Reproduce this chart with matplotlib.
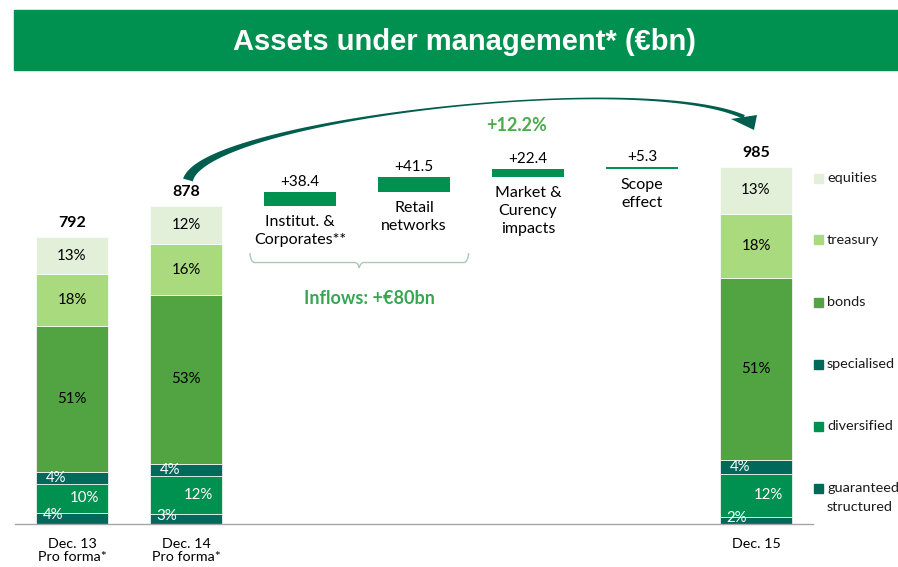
import numpy as np
import matplotlib
matplotlib.use('Agg')
import matplotlib.pyplot as plt
from matplotlib.patches import Rectangle, Polygon, PathPatch
from matplotlib.path import Path

plt.rcParams['font.family'] = ['Lato', 'DejaVu Sans']

# --- data ---
columns = ['Dec. 13\nPro forma*', 'Dec. 14\nPro forma*', 'Dec. 15']
totals = [792, 878, 985]
segments = ['guaranteed\nstructured', 'diversified', 'specialised', 'bonds', 'treasury', 'equities']
share_dec13 = [4, 10, 4, 51, 18, 13]
share_dec14 = [3, 12, 4, 53, 16, 12]
share_dec15 = [2, 12, 4, 51, 18, 13]
flow_names = ['Institut. &\nCorporates**', 'Retail\nnetworks', 'Market &\nCurency\nimpacts', 'Scope\neffect']
flow_values = [38.4, 41.5, 22.4, 5.3]
growth_label = '+12.2%'
inflow_label = 'Inflows: +\u20ac80bn'
title = 'Assets under management* (\u20acbn)'

seg_colors = ['#00695A', '#00904F', '#00695A', '#52A443', '#A9DA7E', '#E2F0D9']
seg_text = ['white', 'white', 'white', 'black', 'black', 'black']
green = '#00904F'
light_green_txt = '#4DAA4B'

W, H = 898, 567
fig = plt.figure(figsize=(W / 100, H / 100), dpi=100)


def px(x, y):
    # pixel position (from top-left) -> figure fraction
    return x / W, 1 - y / H


# header band
fig.patches.append(Rectangle(px(14, 70), (W - 14) / W, 60 / H, transform=fig.transFigure,
                             color=green, zorder=0))
fig.text(*px(464, 42), title, color='white', fontsize=21, fontweight='bold',
         family=['Liberation Sans', 'DejaVu Sans'], ha='center', va='center')

ax = fig.add_axes([15 / W, 43 / H, 798 / W, 444 / H])
ax.set_xlim(-0.5, 6.5)
ax.set_ylim(0, 1226)
bw = 0.64

# stacked columns
col_x = [0, 1, 6]
shares = [share_dec13, share_dec14, share_dec15]
label_dx = [-0.17, 0.11, -0.14, 0, 0, 0]
label_dy = [8, 0, 0, 0, 0, 0]
for x, total, sh in zip(col_x, totals, shares):
    bottom = 0
    for i, pct in enumerate(sh):
        h = total * pct / 100
        ax.bar(x, h, bottom=bottom, width=bw, color=seg_colors[i], edgecolor='white', linewidth=0.5)
        ax.text(x + label_dx[i], bottom + h / 2 + label_dy[i], f'{pct}%', ha='center', va='center',
                fontsize=10.8, color=seg_text[i])
        bottom += h
    ax.annotate(str(total), (x, total), xytext=(0, 10), textcoords='offset points',
                ha='center', va='center', fontsize=11.5, fontweight='bold')

# waterfall of flows between Dec. 14 and Dec. 15
flow_x = [2, 3, 4, 5]
level = totals[1]
for x, v, name in zip(flow_x, flow_values, flow_names):
    ax.bar(x, v, bottom=level, width=bw, color=green, edgecolor='none')
    ax.annotate(f'+{v}', (x, level + v), xytext=(0, 7.5), textcoords='offset points',
                ha='center', va='center', fontsize=11)
    ax.annotate(name, (x, level), xytext=(0, -6.5), textcoords='offset points',
                ha='center', va='top', fontsize=11.5, linespacing=1.35)
    level += v

# brace under the two inflow items
bl, br = flow_x[0] - 0.44, flow_x[1] + 0.48
bm = (bl + br) / 2
verts = [(bl, 748), (bl + 0.01, 722), (bl + 0.04, 722), (bm - 0.04, 722), (bm - 0.01, 722), (bm, 707),
         (bm + 0.01, 722), (bm + 0.04, 722), (br - 0.04, 722), (br - 0.01, 722), (br, 748)]
codes = [Path.MOVETO, Path.CURVE3, Path.CURVE3, Path.LINETO, Path.CURVE3, Path.CURVE3,
         Path.CURVE3, Path.CURVE3, Path.LINETO, Path.CURVE3, Path.CURVE3]
ax.add_patch(PathPatch(Path(verts, codes), fill=False, edgecolor='#A9C9B3', linewidth=1))
ax.text(2.61, 624, inflow_label, ha='center', va='center', fontsize=13, fontweight='bold',
        color='#37A653')
ax.text(3.9, 1101, growth_label, ha='center', va='center', fontsize=13, fontweight='bold',
        color=light_green_txt)

ax.set_xticks(col_x)
ax.set_xticklabels(columns, fontsize=10.3, linespacing=1.1)
ax.tick_params(axis='x', length=0, pad=10)
ax.set_yticks([])
for s in ['top', 'right', 'left']:
    ax.spines[s].set_visible(False)
ax.spines['bottom'].set_color('#A6A6A6')
ax.spines['bottom'].set_linewidth(1)

# legend (top to bottom)
for i, (seg, c) in enumerate(zip(segments[::-1], seg_colors[::-1])):
    y = 178 + 62 * i
    fig.patches.append(Rectangle(px(814, y + 4.5), 9 / W, 9 / H, transform=fig.transFigure, color=c))
    for k, line in enumerate(seg.split('\n')):
        fig.text(*px(827, y + 19 * k), line, fontsize=10.4, va='center', ha='left', color='#1A1A1A')

# curved growth arrow (tapered), pixel coordinates
P = np.array([[188, 180], [205, 120], [640, 70], [744, 117]], dtype=float)
t = np.linspace(0, 1, 200)[:, None]
pts = (1 - t) ** 3 * P[0] + 3 * (1 - t) ** 2 * t * P[1] + 3 * (1 - t) * t ** 2 * P[2] + t ** 3 * P[3]
d = 3 * (1 - t) ** 2 * (P[1] - P[0]) + 6 * (1 - t) * t * (P[2] - P[1]) + 3 * t ** 2 * (P[3] - P[2])
d /= np.linalg.norm(d, axis=1)[:, None]
n = np.column_stack([-d[:, 1], d[:, 0]])
w = (1.2 + 9 * (1 - t[:, 0]) ** 4 + 3 * t[:, 0] ** 6)[:, None]
outline = np.vstack([pts + n * w / 2, (pts - n * w / 2)[::-1]])
head = np.array([[731, 119], [757, 115], [754, 130]], dtype=float)
arrow_col = '#005E4E'
for poly in (outline, head):
    fig.patches.append(Polygon([px(x, y) for x, y in poly], closed=True, transform=fig.transFigure,
                               facecolor=arrow_col, edgecolor='none'))

fig.savefig('out.png', dpi=100)
